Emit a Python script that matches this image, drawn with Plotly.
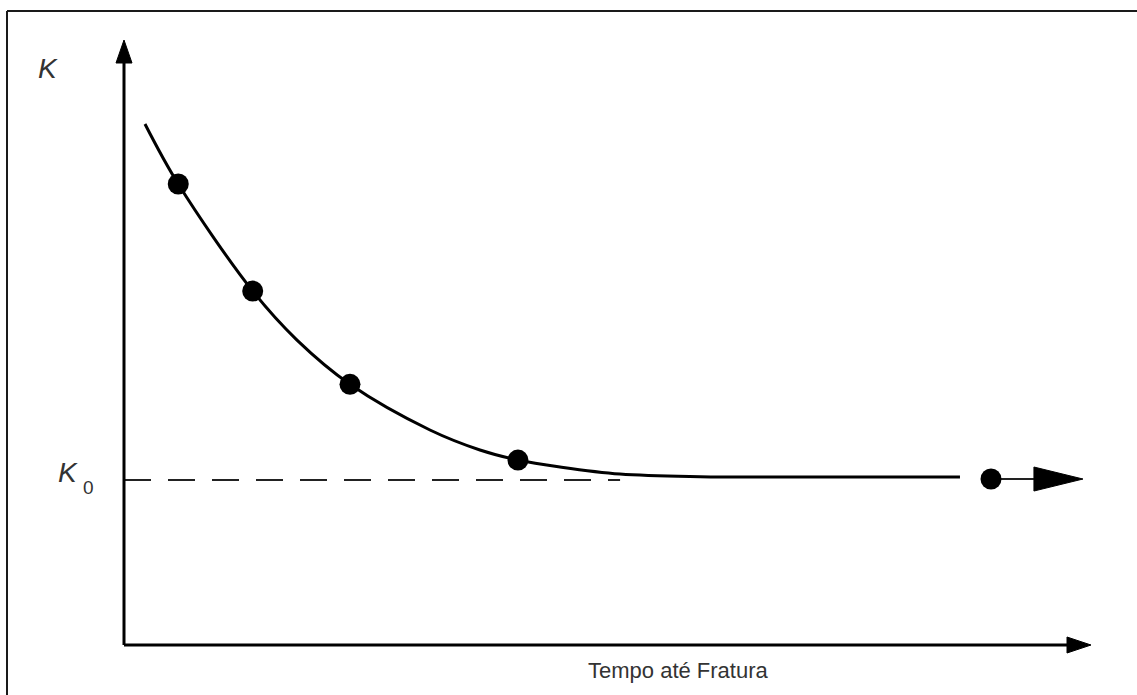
import plotly.graph_objects as go

# ---- data (arbitrary units) ----
curve_t = [0.217, 0.561, 1.331, 1.789, 2.337, 3.164, 3.681, 4.074, 4.509, 5.129, 5.957, 6.991, 8.645]
curve_k = [3.158, 2.794, 2.145, 1.848, 1.580, 1.303, 1.182, 1.121, 1.079, 1.036, 1.020, 1.018, 1.018]
point_t = [0.561, 1.331, 2.337, 4.074, 8.966]
point_k = [2.794, 2.145, 1.580, 1.121, 1.006]
K0 = 1.0
k0_line_t = [0.0, 5.13]
arrow_t = [8.966, 9.41]      # point -> arrowhead base
arrow_tip_t = 9.917
arrow_k = 1.006

X_RANGE = [0, 10]
Y_RANGE = [0, 3.667]

W, H = 1137, 695
ML, MR, MT, MB = 124, 46, 40, 50
PW, PH = W - ML - MR, H - MT - MB

def px(xp):  # pixel x -> paper x
    return (xp - ML) / PW

def py(yp):  # pixel y -> paper y
    return (H - MB - yp) / PH

fig = go.Figure()

# dashed K0 reference line
fig.add_trace(go.Scatter(x=k0_line_t, y=[K0, K0], mode="lines",
                         line=dict(color="#222", width=2.2, dash="27px,17px"),
                         hoverinfo="skip", showlegend=False))
# fitted curve
fig.add_trace(go.Scatter(x=curve_t, y=curve_k, mode="lines",
                         line=dict(color="black", width=3, shape="spline", smoothing=1.0),
                         hoverinfo="skip", showlegend=False))
# arrow from last point
fig.add_trace(go.Scatter(x=arrow_t, y=[arrow_k, arrow_k], mode="lines",
                         line=dict(color="#222", width=2),
                         hoverinfo="skip", showlegend=False))
# data points
fig.add_trace(go.Scatter(x=point_t, y=point_k, mode="markers",
                         marker=dict(color="black", size=21),
                         hoverinfo="skip", showlegend=False))

hh = 12 * (Y_RANGE[1] - Y_RANGE[0]) / PH
shapes = [
    # outer frame (top and left only)
    dict(type="line", xref="paper", yref="paper", x0=px(7), y0=py(11), x1=px(W + 5), y1=py(11),
         line=dict(color="#1a1a1a", width=2)),
    dict(type="line", xref="paper", yref="paper", x0=px(7), y0=py(11), x1=px(7), y1=py(H + 5),
         line=dict(color="#1a1a1a", width=2)),
    # axes
    dict(type="line", xref="paper", yref="paper", x0=0, y0=0, x1=0, y1=py(60),
         line=dict(color="black", width=3)),
    dict(type="line", xref="paper", yref="paper", x0=0, y0=0, x1=px(1070), y1=0,
         line=dict(color="black", width=3)),
    # axis arrowheads
    dict(type="path", xref="paper", yref="paper",
         path=f"M {px(ML-8)},{py(63)} L {px(ML)},{py(40)} L {px(ML+8)},{py(63)} Z",
         fillcolor="black", line=dict(color="black", width=1)),
    dict(type="path", xref="paper", yref="paper",
         path=f"M {px(1067)},{py(645-8)} L {px(1091)},{py(645)} L {px(1067)},{py(645+8)} Z",
         fillcolor="black", line=dict(color="black", width=1)),
    # arrowhead after last point
    dict(type="path", xref="x", yref="y",
         path=f"M {arrow_t[1]},{arrow_k-hh} L {arrow_tip_t},{arrow_k} L {arrow_t[1]},{arrow_k+hh} Z",
         fillcolor="black", line=dict(color="black", width=1)),
]

txt = "#333333"
annotations = [
    dict(xref="paper", yref="paper", x=px(48), y=py(68), text="<i>K</i>", showarrow=False,
         font=dict(family="Liberation Sans, Arial", size=28, color=txt), xanchor="center", yanchor="middle"),
    dict(xref="paper", yref="paper", x=px(68), y=py(472), text="<i>K</i>", showarrow=False,
         font=dict(family="Liberation Sans, Arial", size=28, color=txt), xanchor="center", yanchor="middle"),
    dict(xref="paper", yref="paper", x=px(88), y=py(487), text="0", showarrow=False,
         font=dict(family="Liberation Sans, Arial", size=19, color=txt), xanchor="center", yanchor="middle"),
    dict(xref="paper", yref="paper", x=px(678), y=py(670), text="Tempo até Fratura", showarrow=False,
         font=dict(family="Liberation Sans, Arial", size=22, color=txt), xanchor="center", yanchor="middle"),
]

fig.update_layout(
    width=W, height=H,
    margin=dict(l=ML, r=MR, t=MT, b=MB),
    paper_bgcolor="white", plot_bgcolor="white",
    xaxis=dict(range=X_RANGE, visible=False, fixedrange=True),
    yaxis=dict(range=Y_RANGE, visible=False, fixedrange=True),
    shapes=shapes, annotations=annotations,
    showlegend=False,
)

fig.write_html("out.html")
